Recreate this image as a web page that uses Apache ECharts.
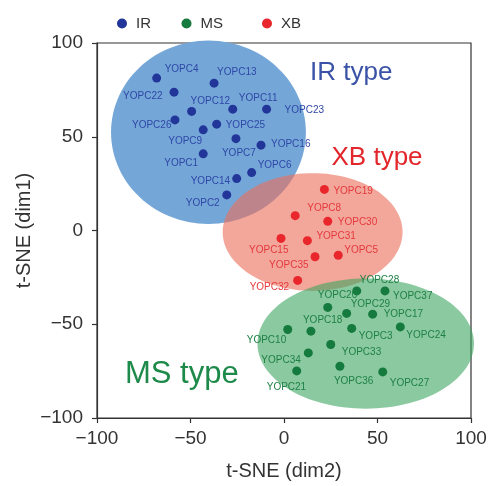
<!DOCTYPE html>
<html><head><meta charset="utf-8">
<script src="https://cdn.jsdelivr.net/npm/echarts@6/dist/echarts.min.js"></script>
<style>html,body{margin:0;padding:0;background:#fff}#c{width:493px;height:486px}</style>
</head><body><div id="c"></div>
<script>
// ---- data ----
const groups = ['IR', 'MS', 'XB'];
const typeLabels = ['IR type', 'MS type', 'XB type'];
const axisTicks = [-100, -50, 0, 50, 100];

const irNames = ['YOPC4','YOPC13','YOPC22','YOPC12','YOPC11','YOPC23','YOPC26','YOPC25','YOPC9','YOPC7','YOPC16','YOPC1','YOPC6','YOPC14','YOPC2'];
const irValues = [[-68.1,81.3],[-37.4,78.6],[-58.8,73.8],[-49.4,63.5],[-27.4,64.7],[-9.3,64.7],[-58.3,59.0],[-36.0,56.7],[-43.2,53.7],[-25.7,49.0],[-12.3,45.5],[-43.2,40.9],[-17.3,30.9],[-25.3,27.7],[-30.6,19.0]];

const xbNames = ['YOPC19','YOPC8','YOPC30','YOPC15','YOPC31','YOPC5','YOPC35','YOPC32'];
const xbValues = [[21.6,21.9],[6.0,7.9],[23.4,4.9],[-1.6,-4.2],[12.5,-5.4],[29.0,-13.2],[16.6,-14.0],[7.3,-26.6]];

const msNames = ['YOPC28','YOPC37','YOPC20','YOPC29','YOPC17','YOPC18','YOPC10','YOPC3','YOPC24','YOPC33','YOPC34','YOPC36','YOPC27','YOPC21'];
const msValues = [[38.9,-32.2],[54.0,-32.2],[23.4,-41.0],[33.5,-44.2],[47.4,-44.6],[14.4,-53.7],[2.0,-52.8],[36.2,-52.2],[62.2,-51.4],[25.0,-60.8],[13.0,-65.3],[29.9,-72.4],[52.8,-75.4],[6.8,-74.9]];

// cluster ellipses: [centerX, centerY, radiusX, radiusY] in data units
const irEllipse = [-40.4, 52.4, 52.1, 48.9];
const xbEllipse = [15.3, -0.8, 48.1, 31.4];
const msEllipse = [43.7, -60.3, 57.9, 34.7];

// ---- styling (label placement relative to each dot, px) ----
const labelOffsets = {
  YOPC4:[8,-9], YOPC13:[3,-11], YOPC22:[-51,4], YOPC12:[-1,-10], YOPC11:[6,-11], YOPC23:[18,1],
  YOPC26:[-43,5], YOPC25:[9,1], YOPC9:[-35,11], YOPC7:[-14,15], YOPC16:[10,-1], YOPC1:[-39,9],
  YOPC6:[6,-7], YOPC14:[-46,3], YOPC2:[-41,8],
  YOPC19:[9,2], YOPC8:[12,-7], YOPC30:[10,1], YOPC15:[-32,12], YOPC31:[9,-4], YOPC5:[6,-5],
  YOPC35:[-46,8], YOPC32:[-48,7],
  YOPC28:[3,-11], YOPC37:[8,5], YOPC20:[-10,-12], YOPC29:[4,-9], YOPC17:[11,0], YOPC18:[-8,-11],
  YOPC10:[-41,11], YOPC3:[7,8], YOPC24:[6,8], YOPC33:[11,8], YOPC34:[-47,7], YOPC36:[-6,15],
  YOPC27:[7,11], YOPC21:[-30,16]
};
const FONT = '"Liberation Sans", Arial, Helvetica, sans-serif';
const dotColors = { IR: '#22369a', MS: '#157a3d', XB: '#e8262c' };
const labelColors = { IR: '#2f47a6', MS: '#1f8045', XB: '#e3393d' };
const fillColors = { IR: 'rgba(116,167,216,1)', MS: 'rgba(62,165,97,0.6)', XB: 'rgba(236,112,92,0.62)' };
const typeColors = { IR: '#3b53a6', MS: '#1d8a4a', XB: '#e2262b' };

function points(names, values) {
  return names.map((n, i) => ({
    name: n,
    value: values[i],
    label: { offset: labelOffsets[n] || [8, 0] }
  }));
}

function ellipseSeries(g, e, z) {
  return {
    type: 'custom',
    name: g + ' region',
    z: z,
    silent: true,
    clip: false,
    data: [e],
    encode: { x: 0, y: 1 },
    renderItem: function (params, api) {
      const cx = api.value(0), cy = api.value(1), rx = api.value(2), ry = api.value(3);
      const pts = [];
      for (let k = 0; k < 120; k++) {
        const t = k / 120 * Math.PI * 2;
        pts.push(api.coord([cx + rx * Math.cos(t), cy + ry * Math.sin(t)]));
      }
      return { type: 'polygon', shape: { points: pts }, style: { fill: fillColors[g], stroke: null } };
    }
  };
}

function scatterSeries(g, names, values) {
  return {
    type: 'scatter',
    name: g,
    z: 5,
    symbol: 'circle',
    symbolSize: 9,
    itemStyle: { color: dotColors[g], opacity: 1 },
    label: {
      show: true,
      formatter: '{b}',
      position: 'inside',
      align: 'left',
      verticalAlign: 'middle',
      color: labelColors[g],
      fontFamily: FONT,
      fontSize: 10
    },
    emphasis: { disabled: true },
    data: points(names, values)
  };
}

const legendLefts = [112, 176.5, 257];

const chart = echarts.init(document.getElementById('c'), null, { renderer: 'canvas' });
const minusFmt = v => String(v).replace('-', '\u2212');

chart.setOption({
  animation: false,
  backgroundColor: '#fff',
  grid: { left: 97, right: 22, top: 43, bottom: 68, show: true, borderColor: '#333', borderWidth: 1.2, backgroundColor: 'transparent' },
  legend: groups.map((g, i) => ({
    data: [g], left: legendLefts[i], top: 11, icon: 'circle', itemWidth: 10, itemHeight: 10,
    selectedMode: false,
    textStyle: { fontFamily: FONT, fontSize: 15, color: '#333', padding: [0, 0, 0, 4] }
  })),
  xAxis: {
    type: 'value', min: axisTicks[0], max: axisTicks[axisTicks.length - 1], interval: 50,
    name: 't-SNE (dim2)', nameLocation: 'middle', nameGap: 43,
    nameTextStyle: { fontFamily: FONT, fontSize: 20, color: '#333' },
    axisLine: { show: true, onZero: false, lineStyle: { color: '#333', width: 1.2 } },
    axisTick: { show: true, inside: false, length: 5, lineStyle: { color: '#333', width: 1.2 } },
    axisLabel: { fontFamily: FONT, fontSize: 19, color: '#333', margin: 11, formatter: minusFmt },
    splitLine: { show: false }
  },
  yAxis: {
    type: 'value', min: axisTicks[0], max: axisTicks[axisTicks.length - 1], interval: 50,
    name: 't-SNE (dim1)', nameLocation: 'middle', nameGap: 63, nameRotate: 90,
    nameMoveOverlap: false,
    nameTextStyle: { fontFamily: FONT, fontSize: 20, color: '#333' },
    axisLine: { show: true, onZero: false, lineStyle: { color: '#333', width: 1.2 } },
    axisTick: { show: true, inside: false, length: 5, lineStyle: { color: '#333', width: 1.2 } },
    axisLabel: { fontFamily: FONT, fontSize: 19, color: '#333', margin: 14, formatter: minusFmt },
    splitLine: { show: false }
  },
  graphic: [
    { type: 'text', x: 310, y: 72.6, z: 10, style: { text: typeLabels[0], font: '26px ' + FONT, fill: typeColors.IR, verticalAlign: 'middle', align: 'left' } },
    { type: 'text', x: 331.5, y: 157.4, z: 10, style: { text: typeLabels[2], font: '26px ' + FONT, fill: typeColors.XB, verticalAlign: 'middle', align: 'left' } },
    { type: 'text', x: 125, y: 374, z: 10, style: { text: typeLabels[1], font: '31px ' + FONT, fill: typeColors.MS, verticalAlign: 'middle', align: 'left' } }
  ],
  series: [
    ellipseSeries('IR', irEllipse, 1),
    ellipseSeries('XB', xbEllipse, 2),
    ellipseSeries('MS', msEllipse, 3),
    scatterSeries('IR', irNames, irValues),
    scatterSeries('MS', msNames, msValues),
    scatterSeries('XB', xbNames, xbValues)
  ]
});
</script>
</body></html>
